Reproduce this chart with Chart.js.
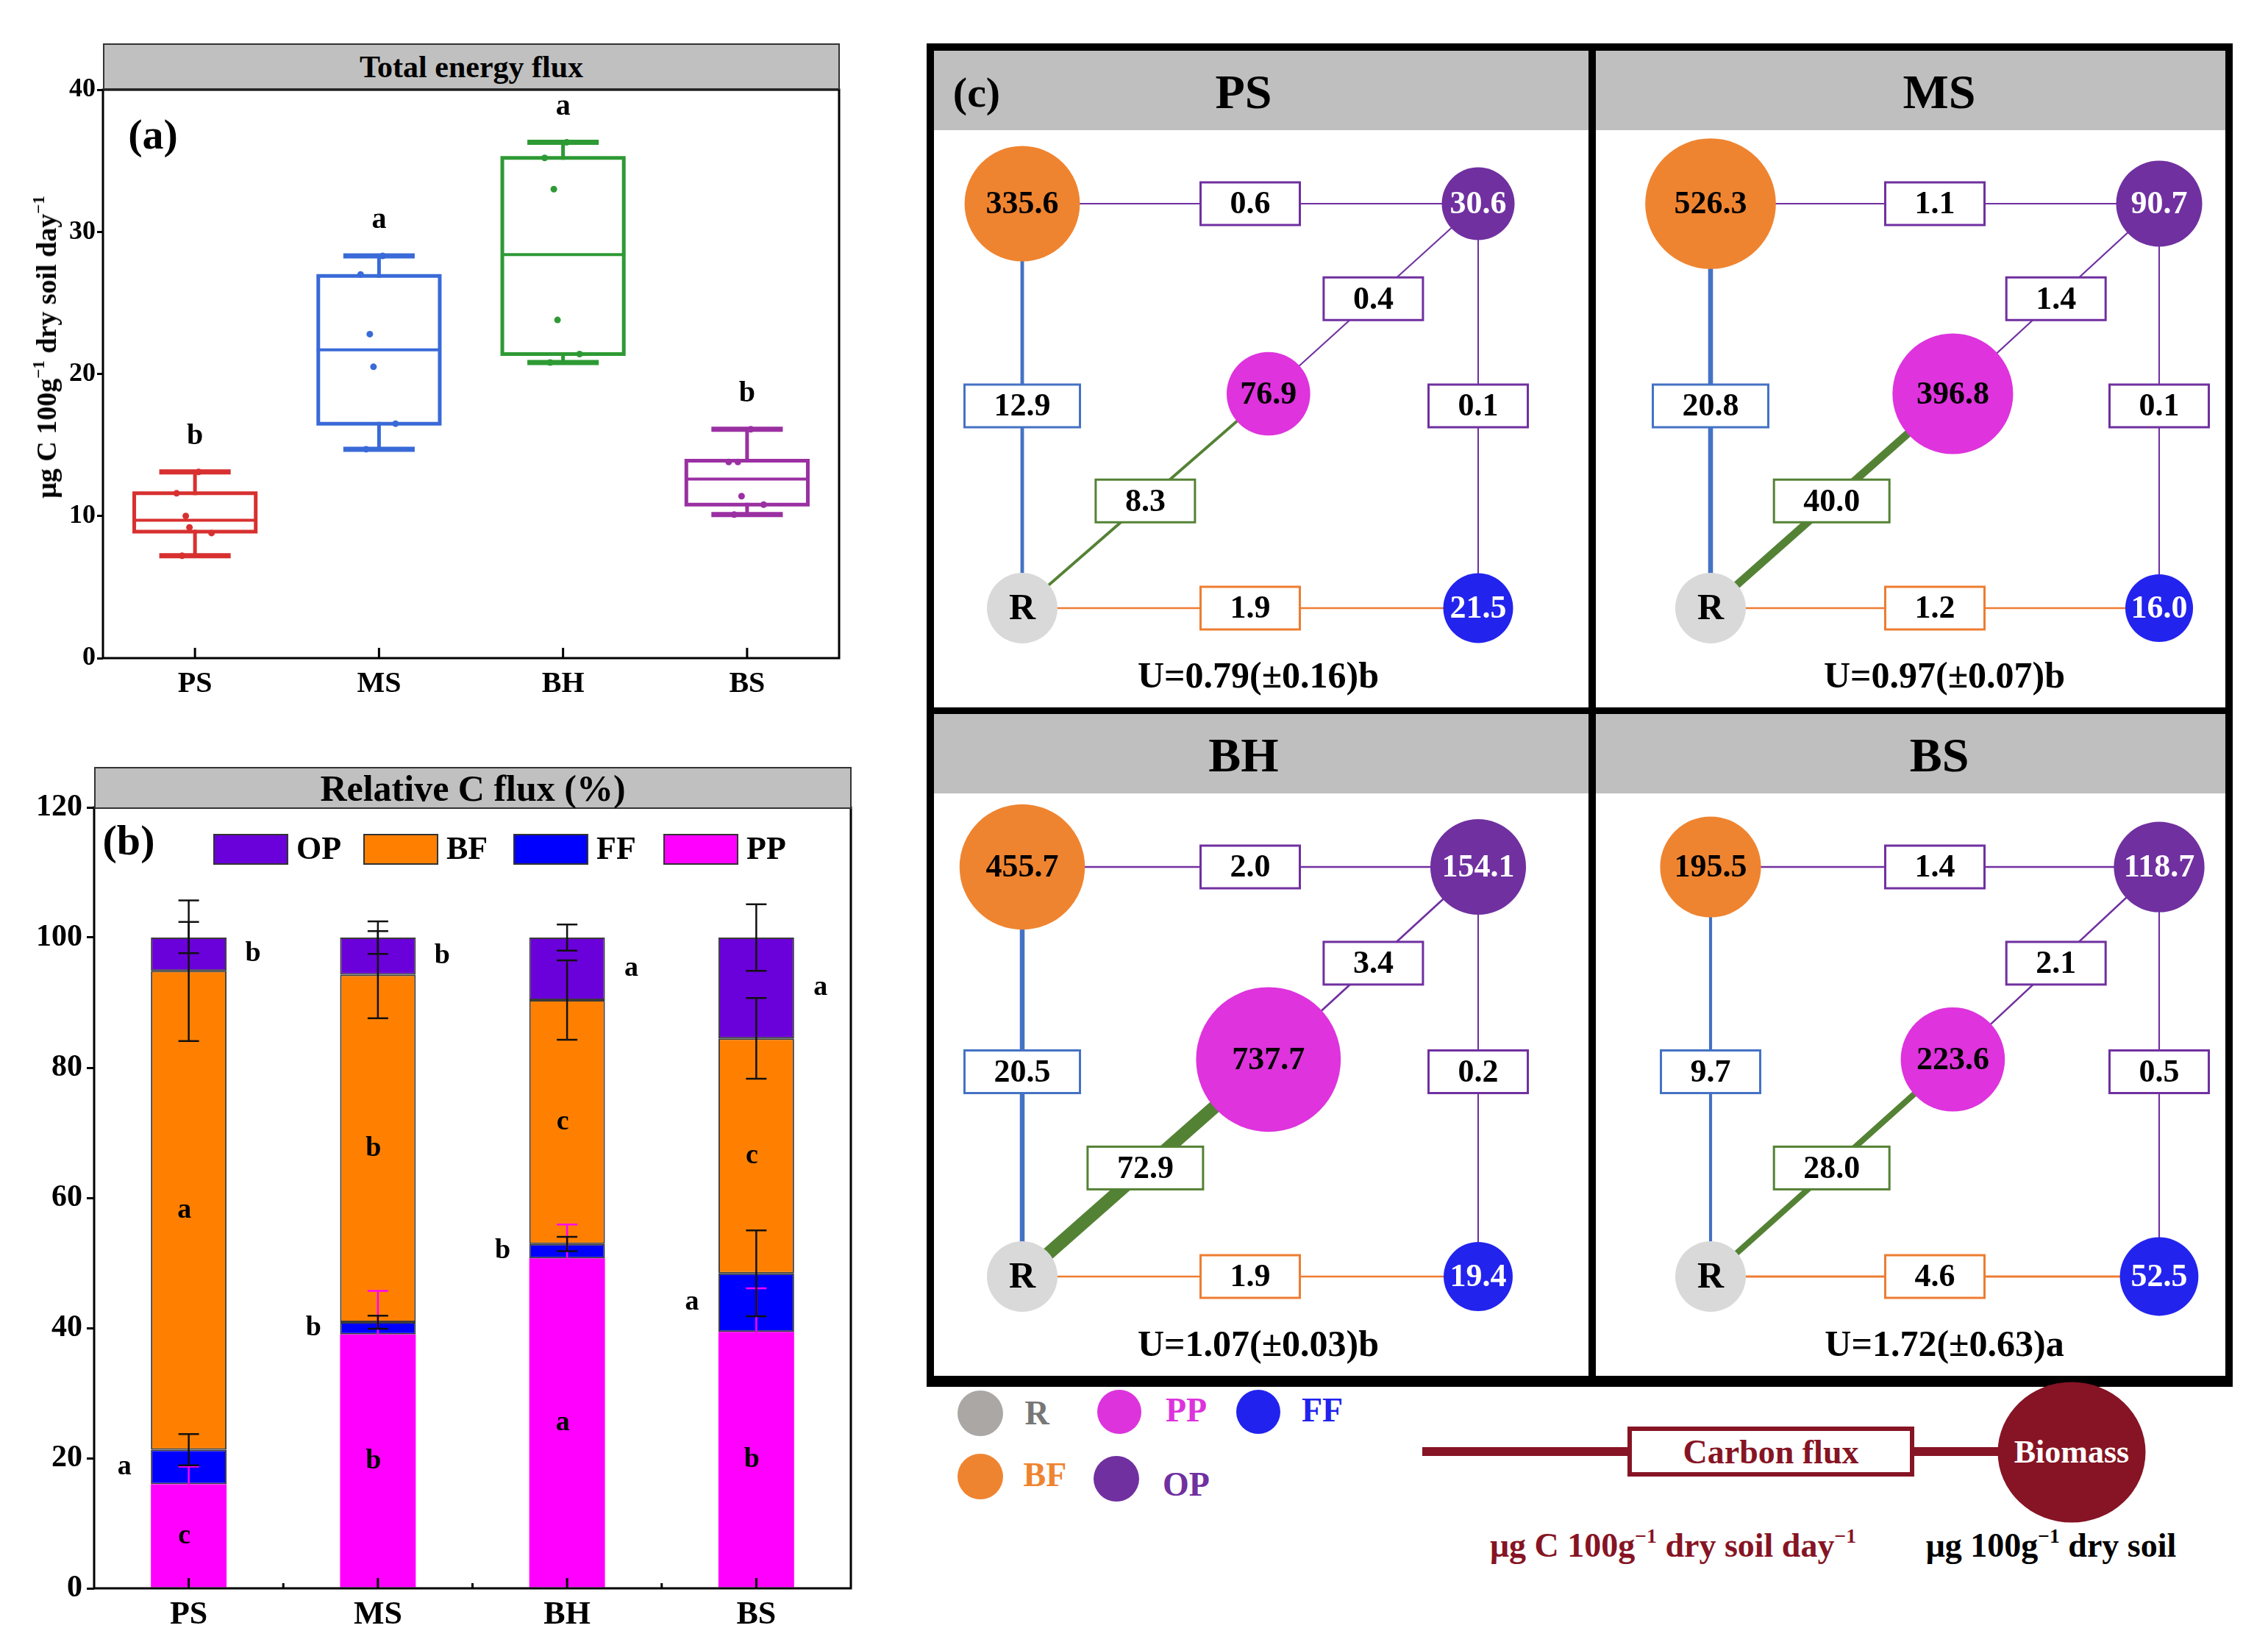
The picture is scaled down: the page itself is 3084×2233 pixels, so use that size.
<!DOCTYPE html>
<html>
<head>
<meta charset="utf-8">
<script src="https://cdn.jsdelivr.net/npm/chart.js@4.4.1/dist/chart.umd.min.js"></script>
<style>
  body { margin:0; width:3084px; height:2233px; background:#fff; position:relative; overflow:hidden;
         font-family:'Liberation Serif','Times New Roman',serif; font-weight:bold; color:#000; }
  canvas { position:absolute; }
  .bar { position:absolute; background:#c0c0c0; border:2px solid #333; box-sizing:border-box;
         display:flex; align-items:center; justify-content:center; }
  .lbl { position:absolute; white-space:nowrap; line-height:1; transform:translate(-50%,-50%); }
  .cell { position:absolute; background:#fff; }
  .head { position:absolute; left:0; top:0; right:0; height:108px; background:#bfbfbf; }
  .dot { position:absolute; border-radius:50%; transform:translate(-50%,-50%); }
  sup { font-size:0.6em; vertical-align:0.7em; line-height:0; }
</style>
</head>
<body>

<!-- (a) -->
<canvas id="chartA" style="left:0;top:0" width="1200" height="990"></canvas>
<div class="bar" style="left:140px;top:59px;width:1002px;height:63px;font-size:42px">Total energy flux</div>
<div class="lbl" style="left:208px;top:183px;font-size:58px">(a)</div>
<div class="lbl" style="left:63px;top:472px;font-size:38px;transform:translate(-50%,-50%) rotate(-90deg)">μg C 100g<sup>−1</sup> dry soil day<sup>−1</sup></div>

<!-- (b) -->
<canvas id="chartB" style="left:0;top:1020px" width="1200" height="1213"></canvas>
<div class="bar" style="left:128px;top:1043px;width:1030px;height:57px;font-size:50px">Relative C flux (%)</div>
<div class="lbl" style="left:175px;top:1143px;font-size:58px">(b)</div>

<!-- (c) -->
<div id="webFrame" style="position:absolute;left:1260px;top:59px;width:1776px;height:1827px;background:#000"></div>

<div class="dot" style="left:1333px;top:1922px;width:62px;height:62px;background:#aaa7a5"></div>
<div class="lbl" style="left:1410px;top:1922px;font-size:46px;color:#777">R</div>
<div class="dot" style="left:1522px;top:1920px;width:60px;height:60px;background:#dd33dd"></div>
<div class="lbl" style="left:1613px;top:1918px;font-size:46px;color:#dd33dd">PP</div>
<div class="dot" style="left:1711px;top:1920px;width:60px;height:60px;background:#2222ee"></div>
<div class="lbl" style="left:1798px;top:1918px;font-size:46px;color:#2222ee">FF</div>
<div class="dot" style="left:1333px;top:2008px;width:62px;height:62px;background:#ef8430"></div>
<div class="lbl" style="left:1421px;top:2006px;font-size:46px;color:#ef8430">BF</div>
<div class="dot" style="left:1518px;top:2011px;width:62px;height:62px;background:#7030a0"></div>
<div class="lbl" style="left:1613px;top:2019px;font-size:46px;color:#7030a0">OP</div>

<div style="position:absolute;left:1934px;top:1968px;width:280px;height:12px;background:#861424"></div>
<div style="position:absolute;left:2213px;top:1940px;width:390px;height:68px;border:6px solid #861424;box-sizing:border-box;background:#fff;display:flex;align-items:center;justify-content:center;font-size:46px;color:#861424">Carbon flux</div>
<div style="position:absolute;left:2602px;top:1968px;width:116px;height:12px;background:#861424"></div>
<div class="dot" style="left:2817px;top:1975px;width:201px;height:191px;background:#861424"></div>
<div class="lbl" style="left:2817px;top:1975px;font-size:44px;color:#fff">Biomass</div>
<div class="lbl" style="left:2275px;top:2102px;font-size:46px;color:#861424">μg C 100g<sup>−1</sup> dry soil day<sup>−1</sup></div>
<div class="lbl" style="left:2789px;top:2102px;font-size:46px;color:#000">μg 100g<sup>−1</sup> dry soil</div>

<script>
const sites = ['PS', 'MS', 'BH', 'BS'];

// (a) total energy flux, box plot summary
const fluxMin = [7.2, 14.7, 20.8, 10.1];
const fluxQ1 = [8.9, 16.5, 21.4, 10.8];
const fluxMedian = [9.7, 21.7, 28.4, 12.6];
const fluxQ3 = [11.6, 26.9, 35.2, 13.9];
const fluxMax = [13.1, 28.3, 36.3, 16.1];
const fluxSamples = [
    [13.1, 11.6, 10.0, 9.2, 8.8, 7.2],
    [28.3, 27.0, 22.8, 20.5, 16.5, 14.7],
    [36.3, 35.2, 33.0, 23.8, 21.4, 20.8],
    [16.1, 13.8, 13.8, 11.4, 10.8, 10.1]
];
const fluxLetters = ['b', 'a', 'a', 'b'];

// (b) relative C flux (%), stacked bottom to top
const groups = ['PP', 'FF', 'BF', 'OP'];
const relPP = [16.0, 39.0, 50.7, 39.4];
const relFF = [5.3, 1.9, 2.2, 9.0];
const relBF = [73.6, 53.4, 37.5, 36.1];
const relOP = [5.1, 5.7, 9.6, 15.5];
const sdPP = [2.7, 6.7, 5.2, 6.7];
const sdFF = [2.4, 1.0, 1.1, 6.6];
const sdBF = [10.8, 6.7, 6.1, 6.2];
const sdOP = [2.4, 2.5, 2.0, 5.1];
const letPP = ['c', 'b', 'a', 'b'];
const letFF = ['a', 'b', 'b', 'a'];
const letBF = ['a', 'b', 'c', 'c'];
const letOP = ['b', 'b', 'a', 'a'];

// (c) carbon flux between groups and biomass
const fluxBF_OP = [0.6, 1.1, 2.0, 1.4];
const fluxPP_OP = [0.4, 1.4, 3.4, 2.1];
const fluxFF_OP = [0.1, 0.1, 0.2, 0.5];
const fluxR_BF = [12.9, 20.8, 20.5, 9.7];
const fluxR_PP = [8.3, 40.0, 72.9, 28.0];
const fluxR_FF = [1.9, 1.2, 1.9, 4.6];
const massBF = [335.6, 526.3, 455.7, 195.5];
const massOP = [30.6, 90.7, 154.1, 118.7];
const massPP = [76.9, 396.8, 737.7, 223.6];
const massFF = [21.5, 16.0, 19.4, 52.5];
const uIndex = ['U=0.79(±0.16)b', 'U=0.97(±0.07)b', 'U=1.07(±0.03)b', 'U=1.72(±0.63)a'];

const FONT = "'Liberation Serif', 'Times New Roman', serif";
Chart.defaults.font.family = FONT;
Chart.defaults.font.weight = 'bold';
Chart.defaults.color = '#000';
Chart.defaults.animation = false;
Chart.defaults.events = [];
Chart.defaults.plugins.legend.display = false;
Chart.defaults.plugins.tooltip.enabled = false;

// ---------- (a) box plot ----------
const siteColors = ['#d83030', '#3a6ad8', '#2e9a34', '#9a30a2'];
const BOX_HALF = 0.33, CAP_HALF = 0.18;
const JITTER = [0.02, -0.1, -0.05, -0.03, 0.09, -0.07];

const aSets = [];
sites.forEach((s, i) => {
    const x = i + 1, col = siteColors[i];
    const seg = (pts, w) => aSets.push({
        data: pts, showLine: true, borderColor: col, borderWidth: w,
        pointRadius: 0, fill: false, borderCapStyle: 'square'
    });
    seg([{x: x - BOX_HALF, y: fluxQ1[i]}, {x: x + BOX_HALF, y: fluxQ1[i]},
         {x: x + BOX_HALF, y: fluxQ3[i]}, {x: x - BOX_HALF, y: fluxQ3[i]},
         {x: x - BOX_HALF, y: fluxQ1[i]}], 5);
    seg([{x: x - BOX_HALF, y: fluxMedian[i]}, {x: x + BOX_HALF, y: fluxMedian[i]}], 4);
    seg([{x: x, y: fluxQ3[i]}, {x: x, y: fluxMax[i]}], 5);
    seg([{x: x, y: fluxQ1[i]}, {x: x, y: fluxMin[i]}], 5);
    seg([{x: x - CAP_HALF, y: fluxMax[i]}, {x: x + CAP_HALF, y: fluxMax[i]}], 7);
    seg([{x: x - CAP_HALF, y: fluxMin[i]}, {x: x + CAP_HALF, y: fluxMin[i]}], 7);
    aSets.push({
        data: fluxSamples[i].map((v, k) => ({x: x + JITTER[k], y: v})),
        showLine: false, pointRadius: 4.5, pointBackgroundColor: col, pointBorderWidth: 0
    });
});

const frameA = {
    id: 'frameA',
    afterDraw(chart) {
        const {ctx, chartArea: a, scales: {x, y}} = chart;
        ctx.save();
        ctx.strokeStyle = '#000';
        ctx.lineWidth = 3;
        ctx.strokeRect(a.left, a.top, a.right - a.left, a.bottom - a.top);
        ctx.beginPath();
        sites.forEach((s, i) => {
            const px = x.getPixelForValue(i + 1);
            ctx.moveTo(px, a.bottom);
            ctx.lineTo(px, a.bottom - 14);
        });
        ctx.stroke();
        ctx.font = 'bold 40px ' + FONT;
        ctx.textAlign = 'center';
        ctx.textBaseline = 'middle';
        ctx.fillStyle = '#000';
        fluxLetters.forEach((l, i) => {
            ctx.fillText(l, x.getPixelForValue(i + 1), y.getPixelForValue(fluxMax[i] + 2.5));
        });
        ctx.restore();
    }
};

new Chart(document.getElementById('chartA'), {
    type: 'scatter',
    data: { datasets: aSets },
    options: {
        responsive: false,
        devicePixelRatio: 1,
        layout: { padding: { top: 122, right: 59, left: 0, bottom: 0 } },
        scales: {
            x: {
                type: 'linear', min: 0.5, max: 4.5,
                afterBuildTicks: ax => { ax.ticks = sites.map((s, i) => ({ value: i + 1 })); },
                afterFit: ax => { ax.height = 95; },
                ticks: { callback: v => sites[v - 1], font: { size: 40 }, padding: 12 },
                grid: { display: false, drawTicks: false },
                border: { display: false }
            },
            y: {
                min: 0, max: 40,
                afterFit: ax => { ax.width = 140; },
                ticks: { stepSize: 10, font: { size: 36 }, padding: 2 },
                grid: { drawOnChartArea: false, tickLength: 8, color: '#000', lineWidth: 3 },
                border: { display: false }
            }
        }
    },
    plugins: [frameA]
});

// ---------- (b) stacked bars ----------
const relSets = [relPP, relFF, relBF, relOP];
const relSd = [sdPP, sdFF, sdBF, sdOP];
const relLetters = [letPP, letFF, letBF, letOP];
const relColors = ['#ff00ff', '#0000ff', '#ff8000', '#6a00da'];

const decorB = {
    id: 'decorB',
    afterDatasetsDraw(chart) {
        const {ctx, chartArea: a, scales: {x, y}} = chart;
        ctx.save();
        // error bars at the top of each segment
        const cum = sites.map(() => 0);
        const mids = groups.map(() => []);
        groups.forEach((g, d) => {
            const meta = chart.getDatasetMeta(d);
            relSets[d].forEach((v, i) => {
                mids[d][i] = cum[i] + v / 2;
                cum[i] += v;
                const px = meta.data[i].x;
                const hi = y.getPixelForValue(cum[i] + relSd[d][i]);
                const lo = y.getPixelForValue(cum[i] - relSd[d][i]);
                ctx.strokeStyle = d === 0 ? '#ff00ff' : '#111';
                ctx.lineWidth = 2.5;
                ctx.beginPath();
                ctx.moveTo(px, hi); ctx.lineTo(px, lo);
                ctx.moveTo(px - 14, hi); ctx.lineTo(px + 14, hi);
                ctx.moveTo(px - 14, lo); ctx.lineTo(px + 14, lo);
                ctx.stroke();
            });
        });
        // significance letters
        ctx.font = 'bold 38px ' + FONT;
        ctx.textAlign = 'center';
        ctx.textBaseline = 'middle';
        ctx.fillStyle = '#000';
        groups.forEach((g, d) => {
            const meta = chart.getDatasetMeta(d);
            relLetters[d].forEach((l, i) => {
                const bar = meta.data[i];
                let px = bar.x - 6;
                if (g === 'OP') px = bar.x + bar.width / 2 + 36;
                if (g === 'FF') px = bar.x - bar.width / 2 - 36;
                ctx.fillText(l, px, y.getPixelForValue(mids[d][i]));
            });
        });
        ctx.restore();
    },
    afterDraw(chart) {
        const {ctx, chartArea: a, scales: {x}} = chart;
        ctx.save();
        ctx.strokeStyle = '#000';
        ctx.lineWidth = 3;
        ctx.strokeRect(a.left, a.top, a.right - a.left, a.bottom - a.top);
        ctx.beginPath();
        sites.forEach((s, i) => {
            const px = x.getPixelForValue(i);
            ctx.moveTo(px, a.bottom); ctx.lineTo(px, a.bottom - 14);
            if (i > 0) {
                const mx = x.getPixelForValue(i - 0.5);
                ctx.moveTo(mx, a.bottom); ctx.lineTo(mx, a.bottom - 7);
            }
        });
        ctx.stroke();
        // legend inside the plot, top row: OP BF FF PP
        ctx.font = 'bold 44px ' + FONT;
        ctx.textBaseline = 'middle';
        ctx.textAlign = 'left';
        const ly = a.top + 57;
        let lx = a.left + 163;
        [3, 2, 1, 0].forEach(d => {
            const ds = chart.data.datasets[d];
            ctx.fillStyle = ds.backgroundColor;
            ctx.fillRect(lx, ly - 20, 100, 40);
            ctx.strokeStyle = '#333';
            ctx.lineWidth = 2;
            ctx.strokeRect(lx, ly - 20, 100, 40);
            ctx.fillStyle = '#000';
            ctx.fillText(ds.label, lx + 112, ly + 2);
            lx += 204;
        });
        ctx.restore();
    }
};

new Chart(document.getElementById('chartB'), {
    type: 'bar',
    data: {
        labels: sites,
        datasets: groups.map((g, d) => ({
            label: g,
            data: relSets[d],
            backgroundColor: relColors[d],
            borderColor: '#3a3a3a',
            borderWidth: d === 0 ? 0 : 2,
            borderSkipped: false,
            barPercentage: 0.4,
            categoryPercentage: 1
        }))
    },
    options: {
        responsive: false,
        devicePixelRatio: 1,
        layout: { padding: { top: 78, right: 43, left: 0, bottom: 0 } },
        scales: {
            x: {
                stacked: true,
                afterFit: ax => { ax.height = 73; },
                ticks: { font: { size: 44 }, padding: 10 },
                grid: { display: false, drawTicks: false },
                border: { display: false }
            },
            y: {
                stacked: true, min: 0, max: 120,
                afterFit: ax => { ax.width = 128; },
                ticks: { stepSize: 20, font: { size: 42 }, padding: 6 },
                grid: { drawOnChartArea: false, tickLength: 10, color: '#000', lineWidth: 3 },
                border: { display: false }
            }
        }
    },
    plugins: [decorB]
});

// ---------- (c) food web per site ----------
const nodes = ['R', 'BF', 'OP', 'PP', 'FF'];
const gridX = { R: 0, BF: 0, OP: 1, PP: 0.54, FF: 1 };
const gridY = { R: 0, BF: 1, OP: 1, PP: 0.53, FF: 0 };
const nodeColors = { R: '#d9d9d9', BF: '#ef8430', OP: '#7030a0', PP: '#de33dd', FF: '#2323ee' };
const nodeText = { R: '#000', BF: '#000', OP: '#fff', PP: '#000', FF: '#fff' };
const edges = [['BF', 'OP'], ['PP', 'OP'], ['FF', 'OP'], ['R', 'BF'], ['R', 'PP'], ['R', 'FF']];
const edgeColors = ['#7030a0', '#7030a0', '#7030a0', '#4472c4', '#548235', '#ed7d31'];
const nodeRadius = m => 37 + 2.26 * Math.sqrt(m);

const cells = [
    { left: 10,  top: 10,  w: 890, h: 893, padL: 120, padR: 150, titleX: 421, uX: 441 },
    { left: 910, top: 10,  w: 856, h: 893, padL: 156, padR: 90,  titleX: 467, uX: 474 },
    { left: 10,  top: 912, w: 890, h: 900, padL: 120, padR: 150, titleX: 421, uX: 441 },
    { left: 910, top: 912, w: 856, h: 900, padL: 156, padR: 90,  titleX: 467, uX: 474 }
];

const webLabels = {
    id: 'webLabels',
    afterDatasetsDraw(chart, args, opts) {
        const {ctx, scales: {x, y}} = chart;
        const p = n => ({ x: x.getPixelForValue(gridX[n]), y: y.getPixelForValue(gridY[n]) });
        ctx.save();
        ctx.font = 'bold 44px ' + FONT;
        ctx.textAlign = 'center';
        ctx.textBaseline = 'middle';
        edges.forEach((e, k) => {
            const a = p(e[0]), b = p(e[1]);
            const cx = (a.x + b.x) / 2, cy = (a.y + b.y) / 2;
            const txt = opts.flows[k].toFixed(1);
            const w = ctx.measureText(txt).width + 80, h = 58;
            ctx.fillStyle = '#fff';
            ctx.fillRect(cx - w / 2, cy - h / 2, w, h);
            ctx.strokeStyle = edgeColors[k];
            ctx.lineWidth = 3;
            ctx.strokeRect(cx - w / 2, cy - h / 2, w, h);
            ctx.fillStyle = '#000';
            ctx.fillText(txt, cx, cy + 2);
        });
        nodes.forEach(n => {
            const c = p(n);
            ctx.fillStyle = nodeText[n];
            ctx.font = (n === 'R' ? 'bold 50px ' : 'bold 44px ') + FONT;
            ctx.fillText(n === 'R' ? 'R' : opts.mass[n].toFixed(1), c.x, c.y + 2);
        });
        ctx.restore();
    }
};

const frame = document.getElementById('webFrame');
sites.forEach((s, i) => {
    const c = cells[i];
    const div = document.createElement('div');
    div.className = 'cell';
    div.style.cssText = `left:${c.left}px;top:${c.top}px;width:${c.w}px;height:${c.h}px`;
    div.innerHTML =
        `<div class="head"></div>` +
        `<div class="lbl" style="left:${c.titleX}px;top:56px;font-size:66px">${s}</div>` +
        (i === 0 ? `<div class="lbl" style="left:58px;top:57px;font-size:58px">(c)</div>` : '') +
        `<canvas width="${c.w}" height="${c.h - 108}" style="left:0;top:108px"></canvas>` +
        `<div class="lbl" style="left:${c.uX}px;top:${c.h - 44}px;font-size:50px">${uIndex[i]}</div>`;
    frame.appendChild(div);

    const flows = [fluxBF_OP[i], fluxPP_OP[i], fluxFF_OP[i], fluxR_BF[i], fluxR_PP[i], fluxR_FF[i]];
    const mass = { BF: massBF[i], OP: massOP[i], PP: massPP[i], FF: massFF[i] };

    const edgeSets = edges.map((e, k) => ({
        type: 'line',
        data: [{ x: gridX[e[0]], y: gridY[e[0]] }, { x: gridX[e[1]], y: gridY[e[1]] }],
        borderColor: edgeColors[k],
        borderWidth: 2 + 0.22 * flows[k],
        pointRadius: 0,
        order: 2,
        clip: false
    }));
    const nodeSet = {
        type: 'bubble',
        data: nodes.map(n => ({ x: gridX[n], y: gridY[n], r: n === 'R' ? 48 : nodeRadius(mass[n]) })),
        backgroundColor: nodes.map(n => nodeColors[n]),
        borderWidth: 0,
        order: 1,
        clip: false
    };

    new Chart(div.querySelector('canvas'), {
        type: 'bubble',
        data: { datasets: [...edgeSets, nodeSet] },
        options: {
            responsive: false,
            devicePixelRatio: 1,
            layout: { padding: { left: c.padL, right: c.padR, top: 100, bottom: 135 } },
            scales: {
                x: { type: 'linear', min: 0, max: 1, display: false },
                y: { type: 'linear', min: 0, max: 1, display: false }
            },
            plugins: { webLabels: { flows: flows, mass: mass } }
        },
        plugins: [webLabels]
    });
});
</script>
</body>
</html>
